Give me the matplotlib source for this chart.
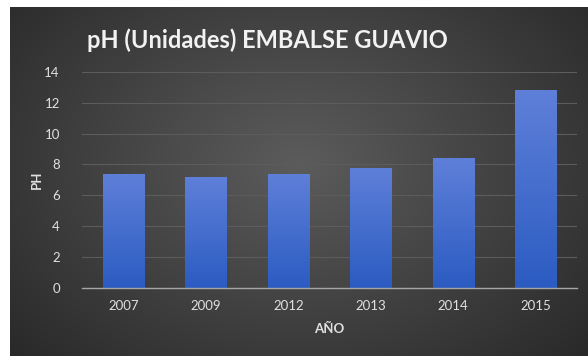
import matplotlib.pyplot as plt
import numpy as np

years = ['2007', '2009', '2012', '2013', '2014', '2015']
ph = [7.4, 7.2, 7.4, 7.8, 8.4, 12.8]
y_ticks = [0, 2, 4, 6, 8, 10, 12, 14]

W, H = 588, 356
fig = plt.figure(figsize=(W / 100, H / 100), dpi=100, facecolor='white')
plt.rcParams['font.family'] = ['Lato', 'DejaVu Sans']

# dark panel with a soft radial shading
bg = fig.add_axes([10 / W, 0, (W - 10) / W, (H - 7) / H])
gx, gy = np.meshgrid(np.linspace(0, 1, 300), np.linspace(0, 1, 200))
r = np.sqrt(((gx - 0.5) / 0.75) ** 2 + ((gy - 0.45) / 0.9) ** 2)
shade = np.clip(0.36 - 0.22 * r, 0.15, 0.36)
bg.imshow(np.dstack([shade, shade, shade]), aspect='auto', extent=[0, 1, 0, 1], origin='upper')
bg.set_axis_off()

ax = fig.add_axes([82 / W, (H - 287.7) / H, 495 / W, 215.7 / H])
ax.patch.set_alpha(0)
x = np.arange(len(years))
bars = ax.bar(x, ph, width=0.5, color='#4472c4', zorder=3)

# vertical gradient inside each bar
grad = np.linspace(0, 1, 100).reshape(-1, 1)
top = np.array([0.37, 0.50, 0.85])
bot = np.array([0.17, 0.36, 0.76])
img = top + (bot - top) * grad[:, :, None]
for b in bars:
    b.set_facecolor('none')
    im = ax.imshow(img, aspect='auto', zorder=3,
                   extent=[b.get_x(), b.get_x() + b.get_width(), 0, b.get_height()])
    im.set_clip_path(b)

ax.set_xlim(-0.5, len(years) - 0.5)
ax.set_ylim(0, 14)
ax.set_yticks(y_ticks)
ax.set_xticks(x)
ax.set_xticklabels(years)
ax.grid(axis='y', color='#5c5c5c', linewidth=0.8, zorder=0)
for s in ['top', 'right', 'left']:
    ax.spines[s].set_visible(False)
ax.spines['bottom'].set_color('#a6a6a6')
ax.spines['bottom'].set_linewidth(1.0)
ax.spines['bottom'].set_zorder(4)
ax.tick_params(axis='both', length=0, colors='#e0e0e0', labelsize=9.5)
ax.tick_params(axis='y', pad=16)
ax.tick_params(axis='x', pad=9)

ax.set_xlabel('AÑO', color='#e0e0e0', fontsize=9.5, fontweight='bold', labelpad=8)
ax.set_ylabel('PH', color='#e0e0e0', fontsize=9.5, fontweight='bold', labelpad=1)

fig.text(267 / W, 1 - 40 / H, 'pH (Unidades) EMBALSE GUAVIO', ha='center', va='center',
         color='#f2f2f2', fontsize=17, fontweight='bold')

fig.savefig('out.png', dpi=100, facecolor='white')
